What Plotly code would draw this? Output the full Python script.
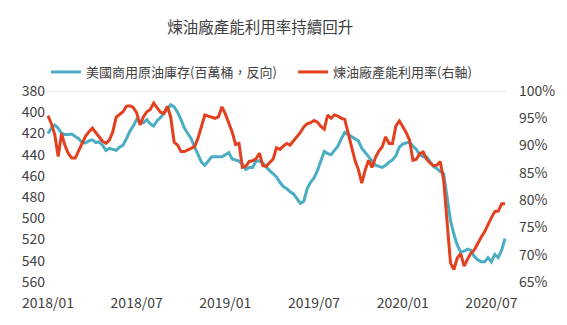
import pandas as pd
import plotly.graph_objects as go

# Weekly dates (Fridays), 2018/01/05 .. 2020/07/31
dates = pd.date_range("2018-01-05", periods=135, freq="7D")

# US commercial crude inventory (million barrels, plotted reversed)
inventory = [
    420, 415, 412, 415, 420, 421, 421, 420.5, 423, 425,
    428.5, 429, 427, 426, 428.5, 428, 431, 436, 434, 435,
    436, 433, 431, 425, 418, 413, 407, 409, 410, 407,
    411, 413, 408, 405, 401, 397, 393, 395, 400, 407,
    415, 420, 425, 433, 440, 447, 450, 446, 442, 442,
    442, 442, 440, 438, 444, 445, 446, 449, 454, 452,
    452, 446, 446, 448, 452, 455, 458, 461, 466, 470,
    472, 475, 477, 481, 486, 484, 472, 466, 462, 455,
    446, 437, 439, 440, 436, 432, 425, 419, 421, 423,
    425, 427, 434, 438, 442, 446, 450, 451, 452, 450,
    447, 445, 441, 433, 430, 429, 428, 432, 435, 440,
    442, 442, 446, 451, 453, 456, 458, 478, 502, 515,
    525, 532, 531, 529, 530, 536, 539, 541, 541, 537,
    541, 534, 537, 530, 519,
]

# Refinery capacity utilization (%), right axis
utilization = [
    95.5, 94, 92, 88, 92.2, 90, 88.5, 87.7, 87.7, 89,
    90.5, 91.7, 92.5, 93.2, 92.4, 91.5, 90.8, 90.4, 91, 92.5,
    95.2, 95.7, 96.2, 97.2, 97.3, 97, 96, 93.8, 95.3, 96.2,
    96.6, 97.8, 97, 96.1, 95.9, 97.2, 95.2, 90.6, 90.1, 88.9,
    88.9, 89.2, 89.5, 89.8, 91.4, 93.5, 95.6, 95.4, 95.2, 95,
    95.3, 97.1, 95.8, 94.3, 92.5, 90.2, 90.4, 86, 86.2, 87.1,
    87.2, 87.6, 88.6, 86.3, 86.2, 86.9, 87.5, 89.6, 89.3, 89.9,
    90.4, 90.1, 90.8, 91.5, 92.4, 93.4, 94, 94.2, 94.6, 94.3,
    93.5, 93, 95.6, 95, 95.6, 95.4, 95, 94.8, 92, 89.8,
    87.3, 85.6, 83.1, 85.5, 87.3, 86, 87.8, 89, 89.8, 91.6,
    90.4, 90.4, 93.6, 94.5, 93.5, 92.4, 91, 87.3, 87.5, 88.5,
    88.8, 87.5, 86.8, 86.3, 86.4, 87.1, 83.7, 75.5, 68.5, 67.3,
    69.4, 70.2, 67.9, 69.2, 70.3, 70.9, 72.2, 73.2, 74.2, 75.6,
    76.8, 77.9, 78, 79.3, 79.4,
]

tick_idx = [0, 26, 52, 78, 104, 130]
tick_labels = ["2018/01", "2018/07", "2019/01", "2019/07", "2020/01", "2020/07"]
left_ticks = [380, 400, 420, 440, 460, 480, 500, 520, 540, 560]
right_ticks = [65, 70, 75, 80, 85, 90, 95, 100]
right_labels = ["65%", "70%", "75%", "80%", "85%", "90%", "95%", "100%"]

title_text = "煉油廠產能利用率持續回升"
name_inv = "美國商用原油庫存(百萬桶，反向)"
name_util = "煉油廠產能利用率(右軸)"

FONT = "Noto Sans CJK TC, Noto Sans, sans-serif"
TXT = "#404040"

fig = go.Figure()
fig.add_trace(go.Scatter(x=dates, y=inventory, name=name_inv, mode="lines",
                         line=dict(color="#4BADC3", width=3), yaxis="y", legend="legend"))
fig.add_trace(go.Scatter(x=dates, y=utilization, name=name_util, mode="lines",
                         line=dict(color="#E2401E", width=3), yaxis="y2", legend="legend2"))

pad = pd.Timedelta(days=4)
leg_common = dict(orientation="h", y=1.0995, yanchor="middle", xanchor="left",
                  font=dict(size=13, color=TXT, family=FONT), bgcolor="rgba(0,0,0,0)")
fig.update_layout(
    width=567, height=325,
    margin=dict(l=46, r=58, t=91, b=43),
    paper_bgcolor="white", plot_bgcolor="white",
    font=dict(family=FONT, size=14, color=TXT),
    title=dict(text=title_text, x=0.459, xanchor="center", y=1 - 28 / 325,
               yanchor="middle", font=dict(size=15.5, color=TXT, family=FONT)),
    showlegend=True,
    legend=dict(x=0.0, **leg_common),
    legend2=dict(x=0.536, **leg_common),
    xaxis=dict(range=[dates[0] - pad, dates[-1] + pad], showgrid=False, zeroline=False,
               tickvals=[dates[i] for i in tick_idx], ticktext=tick_labels,
               ticks="", showline=False, tickfont=dict(size=14, color=TXT),
               ticklabelstandoff=11),
    yaxis=dict(range=[560, 380], tickvals=left_ticks, showgrid=False, zeroline=False,
               ticks="", showline=False, tickfont=dict(size=14, color=TXT)),
    yaxis2=dict(range=[65, 100], tickvals=right_ticks, ticktext=right_labels,
                overlaying="y", side="right", showgrid=False, zeroline=False,
                ticks="", showline=False, tickfont=dict(size=14, color=TXT),
                ticklabelstandoff=11),
    shapes=[dict(type="line", xref="paper", x0=0, x1=1, yref="y", y0=380, y1=380,
                 line=dict(color="#D9D9D9", width=1), layer="below")],
)

fig.write_html("out.html")
